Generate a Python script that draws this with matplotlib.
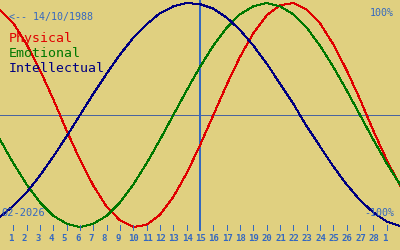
import matplotlib
matplotlib.use("Agg")
import matplotlib.pyplot as plt
import matplotlib.transforms as mtransforms

# biorhythm values (%) read per day slot, slot 0 = left edge, slot 1 = 1 Feb 2026
days = list(range(0, 31))
physical = [94, 82, 63, 40, 14, -14, -40, -63, -82, -94, -100, -98, -89, -73, -52, -27,
            0, 27, 52, 73, 89, 98, 100, 94, 82, 63, 40, 14, -14, -40, -63]
emotional = [-22, -43, -62, -78, -90, -97, -100, -97, -90, -78, -62, -43, -22, 0, 22, 43,
             62, 78, 90, 97, 100, 97, 90, 78, 62, 43, 22, 0, -22, -43, -62]
intellectual = [-91, -81, -69, -54, -37, -19, 0, 19, 37, 54, 69, 81, 91, 97, 100, 99,
                95, 87, 76, 62, 46, 28, 10, -10, -28, -46, -62, -76, -87, -95, -99]
tick_days = list(range(1, 30))
tick_labels = [str(d) for d in range(1, 29)] + ["1"]
today = 15

bg = "#e0d080"
blue = "#3468c0"

fig = plt.figure(figsize=(4, 2.5), dpi=100, facecolor=bg)
ax = fig.add_axes([0, 0, 1, 1], facecolor=bg)
ax.set_xlim(0, 30)
ax.set_ylim(-120.5, 102.7)
ax.axis("off")

ax.axhline(0, color="#4a64a0", lw=0.72, antialiased=False)
ax.axvline(today, ymin=0.08, ymax=1, color=blue, lw=1.4, antialiased=False)

ax.plot(days, physical, color="#e00000", lw=0.72, antialiased=False)
ax.plot(days, emotional, color="#007800", lw=0.72, antialiased=False)
ax.plot(days, intellectual, color="#000080", lw=0.72, antialiased=False)

trans = mtransforms.blended_transform_factory(ax.transData, ax.transAxes)
ax.vlines(tick_days, 0.08, 0.10, color=blue, lw=0.72, transform=trans, antialiased=False)
lab_trans = mtransforms.offset_copy(trans, fig=fig, x=-5, y=0, units="dots")
for d, t in zip(tick_days, tick_labels):
    ax.text(d, 0.036, t, transform=lab_trans, ha="left", va="baseline",
            color=blue, fontsize=6.5, family="DejaVu Sans Mono", fontweight="bold")


def px(x, y):
    return x / 400, 1 - y / 250


mono = "DejaVu Sans Mono"
fig.text(*px(9, 20), "<-- 14/10/1988", color=blue, fontsize=7.2, family=mono, va="baseline")
fig.text(*px(9, 42), "Physical", color="#e00000", fontsize=9.5, family=mono, va="baseline")
fig.text(*px(9, 57), "Emotional", color="#007800", fontsize=9.5, family=mono, va="baseline")
fig.text(*px(9, 72), "Intellectual", color="#000080", fontsize=9.5, family=mono, va="baseline")
fig.text(*px(394, 16), "100%", color=blue, fontsize=7.2, family=mono, va="baseline", ha="right")
fig.text(*px(394, 216), "-100%", color=blue, fontsize=7.2, family=mono, va="baseline", ha="right")
fig.text(*px(1, 216), "02-2026", color=blue, fontsize=7.5, family=mono, va="baseline")

fig.savefig("out.png", dpi=100, facecolor=bg)
